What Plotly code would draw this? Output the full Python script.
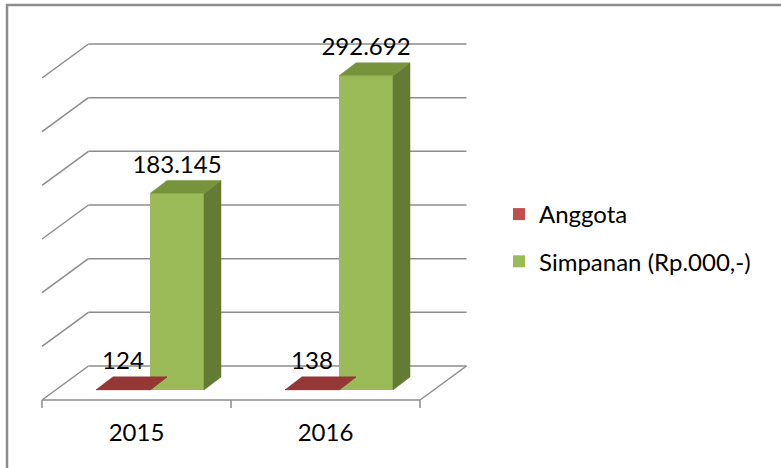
import plotly.graph_objects as go

# ---------------- data ----------------
years = ["2015", "2016"]
anggota = [124, 138]
simpanan = [183145, 292692]
series_names = ["Anggota", "Simpanan (Rp.000,-)"]
grid_ticks = [0, 50000, 100000, 150000, 200000, 250000, 300000]

# ---------------- layout constants (pixels) ----------------
W, H = 781, 468
CAT_PX = 189.0                 # pixels per category
VAL_PX = 322.0 / 300000.0      # pixels per value unit
K = 1.0 / VAL_PX               # value units per pixel (y)
PXX = 1.0 / CAT_PX             # category units per pixel (x)
X0_PX, Y0_PX = 150.0, 390.0    # pixel position of category 0 / value 0 on the bar plane
BARGAP = 1 - 108.0 / 189.0

FRONT_DX, FRONT_DY = -13.5, -10.0   # floor front edge relative to bar plane
BACK_DX, BACK_DY = 33.0, 24.0       # back wall relative to bar plane
BAR_DX, BAR_DY = 17.0, 13.0         # bar depth

GRID = "#8C8C8C"
FONT = "Lato"
FS = 24

front_col = ["#C0504D", "#9BBB59"]
top_col = ["#953735", "#77933C"]
side_col = ["#7F2E2C", "#637B34"]

xcat = list(range(len(years)))
series = [anggota, simpanan]

fig = go.Figure()

# native bars (front faces)
for j, (name, vals) in enumerate(zip(series_names, series)):
    fig.add_trace(go.Bar(
        x=xcat, y=vals, name=name, marker_color=front_col[j],
        marker_line_width=0, legendgroup=name, hoverinfo="skip",
    ))

# 3-D faces computed from the bar geometry
w = (1 - BARGAP) / len(series)
dxb, dyb = BAR_DX * PXX, BAR_DY * K
for j, vals in enumerate(series):
    for i, v in zip(xcat, vals):
        left = i - (1 - BARGAP) / 2 + j * w
        right = left + w
        # side face
        fig.add_trace(go.Scatter(
            x=[right, right + dxb, right + dxb, right, right],
            y=[0, dyb, v + dyb, v, 0],
            fill="toself", fillcolor=side_col[j], mode="lines",
            line=dict(color=side_col[j], width=0.5),
            showlegend=False, hoverinfo="skip"))
        # top face
        fig.add_trace(go.Scatter(
            x=[left, left + dxb, right + dxb, right, left],
            y=[v, v + dyb, v + dyb, v, v],
            fill="toself", fillcolor=top_col[j], mode="lines",
            line=dict(color=top_col[j], width=0.5),
            showlegend=False, hoverinfo="skip"))

# data labels
for j, vals in enumerate(series):
    xs = [i - (1 - BARGAP) / 2 + j * w + w / 2 for i in xcat]
    fig.add_trace(go.Scatter(
        x=xs, y=[v + 26.5 * K for v in vals], customdata=vals,
        mode="text", texttemplate="%{customdata:,.0f}",
        textposition="middle center",
        textfont=dict(family=FONT, size=FS, color="black"),
        showlegend=False, hoverinfo="skip", cliponaxis=False))

# category labels on the front edge
fig.add_trace(go.Scatter(
    x=[i + FRONT_DX * PXX for i in xcat], y=[-45 * K] * len(xcat),
    mode="text", text=years, textposition="middle center",
    textfont=dict(family=FONT, size=FS, color="black"),
    showlegend=False, hoverinfo="skip", cliponaxis=False))

# walls, floor, gridlines (shapes below traces)
shapes = []
xl, xr = -0.5, len(years) - 0.5
fdx, fdy = FRONT_DX * PXX, FRONT_DY * K
bdx, bdy = BACK_DX * PXX, BACK_DY * K
ln = dict(color=GRID, width=1.5)
for t in grid_ticks:
    shapes.append(dict(type="line", xref="x", yref="y", layer="below",
                       x0=xl + bdx, x1=xr + bdx, y0=t + bdy, y1=t + bdy, line=ln))
    shapes.append(dict(type="line", xref="x", yref="y", layer="below",
                       x0=xl + fdx, x1=xl + bdx, y0=t + fdy, y1=t + bdy, line=ln))
# floor front and right edges
shapes.append(dict(type="line", xref="x", yref="y", layer="below",
                   x0=xl + fdx, x1=xr + fdx, y0=fdy, y1=fdy, line=ln))
shapes.append(dict(type="line", xref="x", yref="y", layer="below",
                   x0=xr + fdx, x1=xr + bdx, y0=fdy, y1=bdy, line=ln))
# category tick marks
for b in [xl + k for k in range(len(years) + 1)]:
    shapes.append(dict(type="line", xref="x", yref="y", layer="below",
                       x0=b + fdx, x1=b + fdx, y0=fdy, y1=fdy - 8 * K, line=ln))
# chart border
shapes.append(dict(type="rect", xref="paper", yref="paper",
                   x0=7.0 / W, x1=1.05, y0=-0.05, y1=1 - 5.0 / H,
                   line=dict(color=GRID, width=2.5), fillcolor="rgba(0,0,0,0)"))

fig.update_layout(
    width=W, height=H, margin=dict(l=0, r=0, t=0, b=0),
    paper_bgcolor="white", plot_bgcolor="white",
    barmode="group", bargap=BARGAP, bargroupgap=0,
    separators=",.",
    shapes=shapes,
    xaxis=dict(range=[-X0_PX * PXX, (W - X0_PX) * PXX], visible=False, fixedrange=True),
    yaxis=dict(range=[-(H - Y0_PX) * K, Y0_PX * K], visible=False, fixedrange=True),
    showlegend=True,
    legend=dict(x=499.0 / W, y=1 - 192.0 / H, xanchor="left", yanchor="top",
                font=dict(family=FONT, size=FS, color="black"),
                bgcolor="rgba(0,0,0,0)", tracegroupgap=13, traceorder="grouped"),
    font=dict(family=FONT),
)

fig.write_html("out.html", config={"displayModeBar": False},
               post_script="document.body.style.margin='0px';document.body.style.padding='0px';")
